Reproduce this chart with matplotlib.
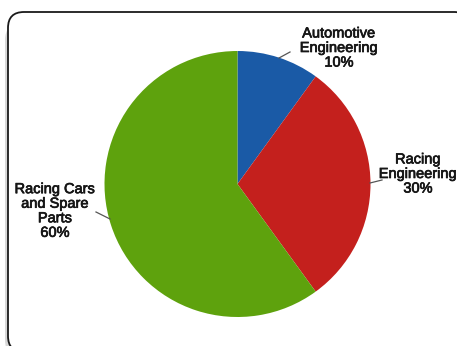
import matplotlib.pyplot as plt
import matplotlib.patheffects as pe
from matplotlib.patches import FancyBboxPatch

plt.rcParams['font.family'] = ['Liberation Sans', 'DejaVu Sans']

# slices, clockwise from 12 o'clock
labels = ['Automotive\nEngineering', 'Racing\nEngineering', 'Racing Cars\nand Spare\nParts']
shares = [10, 30, 60]
colors = ['#1a5aa6', '#c4201d', '#5ea20d']

W, H = 457, 346
fig = plt.figure(figsize=(W / 100, H / 100), dpi=100)
ax = fig.add_axes([0, 0, 1, 1])

# card frame with a soft shadow on the left
shadow = FancyBboxPatch((5, -10), 460, H - 14, boxstyle='round,pad=0,rounding_size=16',
                        fc='#bdbdbd', ec='none', alpha=0.6, zorder=0)
card = FancyBboxPatch((8, -6), 462, H - 12 + 6, boxstyle='round,pad=0,rounding_size=16',
                      fc='white', ec='#1a1a1a', lw=1.3, zorder=1)
ax.add_patch(shadow)
ax.add_patch(card)

cx, cy, r = 237.5, H - 184, 133
ax.pie(shares, colors=colors, startangle=90, counterclock=False,
       center=(cx, cy), radius=r, frame=True,
       wedgeprops=dict(lw=0, zorder=2))
ax.set_xlim(0, W)
ax.set_ylim(0, H)
ax.set_aspect('equal')
ax.axis('off')

# label text positions and leader line ends (pixel space, y down)
text_pos = [(339, 48), (418, 174), (55, 211)]
line_pts = [((279, 58), (290, 52)), ((370, 183), (382, 180)), ((110, 219), (96, 212))]
for lab, v, (tx, ty), (p0, p1) in zip(labels, shares, text_pos, line_pts):
    ax.plot([p0[0], p1[0]], [H - p0[1], H - p1[1]], color='#555555', lw=0.9, zorder=3)
    t = ax.text(tx, H - ty, f'{lab}\n{v}%', ha='center', va='center', fontsize=10.5,
                linespacing=1.05, color='#151515', zorder=4)
    t.set_path_effects([pe.withStroke(linewidth=0.5, foreground='#151515')])

fig.savefig('out.png', dpi=100)
